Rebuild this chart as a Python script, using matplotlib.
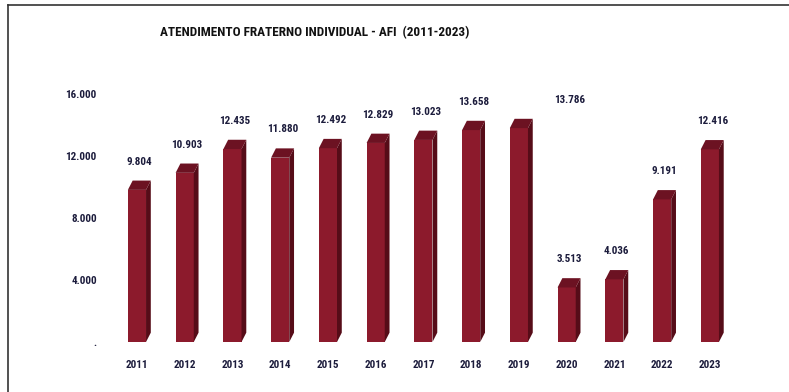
import matplotlib
matplotlib.use("Agg")
import matplotlib.pyplot as plt
from matplotlib import font_manager
from matplotlib.patches import Polygon
from matplotlib.lines import Line2D

# data
years = ["2011", "2012", "2013", "2014", "2015", "2016", "2017",
         "2018", "2019", "2020", "2021", "2022", "2023"]
atendimentos = [9804, 10903, 12435, 11880, 12492, 12829, 13023,
                13658, 13786, 3513, 4036, 9191, 12416]
y_ticks = [0, 4000, 8000, 12000, 16000]
y_tick_labels = [".", "4.000", "8.000", "12.000", "16.000"]
title = "ATENDIMENTO FRATERNO INDIVIDUAL - AFI  (2011-2023)"

# pick a condensed font if one exists
available = {f.name for f in font_manager.fontManager.ttflist}
family = "DejaVu Sans"
for name in ["Liberation Sans Narrow", "Roboto Condensed", "Open Sans Condensed", "Liberation Sans"]:
    if name in available:
        family = name
        break
plt.rcParams["font.family"] = [family, "DejaVu Sans"]

FRONT = "#8c1a2c"
SIDE = "#560c18"
TOP = "#6c1222"
TEXT = "#1c1c3c"

fig = plt.figure(figsize=(7.89, 3.92), dpi=100)
ax = fig.add_axes([0.1403, 0.1276, 0.7927, 0.653])

n = len(years)
xs = list(range(n))
width = 0.38
dx = 0.1
dy = 600

ax.bar(xs, atendimentos, width=width, color=FRONT, edgecolor="none", zorder=2)
for x, v in zip(xs, atendimentos):
    left = x - width / 2
    right = x + width / 2
    side = Polygon([(right, 0), (right + dx, dy), (right + dx, v + dy), (right, v)],
                   closed=True, facecolor=SIDE, edgecolor="none", zorder=2)
    top = Polygon([(left, v), (left + dx, v + dy), (right + dx, v + dy), (right, v)],
                  closed=True, facecolor=TOP, edgecolor="none", zorder=2)
    ax.add_patch(side)
    ax.add_patch(top)

# value labels; the 2019 one sits off to the right in the original
for i, (x, v) in enumerate(zip(xs, atendimentos)):
    shift = 35 if years[i] == "2019" else 0
    ax.annotate(f"{v:,}".replace(",", "."), (x + dx / 2, v + dy),
                xytext=(shift, 10), textcoords="offset points",
                ha="center", va="bottom", fontsize=8, fontweight="bold", color=TEXT)

ax.set_xlim(-0.55, n - 0.45)
ax.set_ylim(0, 16500)
ax.set_xticks(xs)
ax.set_xticklabels(years, fontsize=8, fontweight="bold", color=TEXT)
ax.set_yticks(y_ticks)
ax.set_yticklabels(y_tick_labels, fontsize=8, fontweight="bold", color=TEXT)
ax.tick_params(axis="x", length=0, pad=13)
ax.tick_params(axis="y", length=0, pad=10)
for s in ax.spines.values():
    s.set_visible(False)

fig.text(315 / 789, 1 - 33 / 392, title, ha="center", va="center",
         fontsize=9.5, fontweight="bold", color="#111111")

# frame lines of the scanned chart box
fig.add_artist(Line2D([8 / 789, 8 / 789], [0, 1 - 5 / 392], color="#333333", lw=1.2))
fig.add_artist(Line2D([8 / 789, 1], [1 - 5 / 392, 1 - 5 / 392], color="#333333", lw=1.2))

fig.savefig("out.png", dpi=100)
